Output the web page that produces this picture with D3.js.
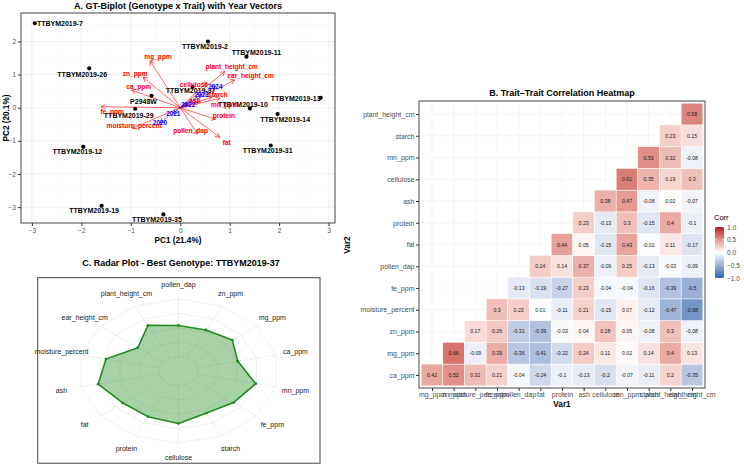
<!DOCTYPE html>
<html>
<head>
<meta charset="utf-8">
<script src="https://cdn.jsdelivr.net/npm/d3@7"></script>
<style>
  body { margin: 0; background: #fff; }
  svg { display: block; font-family: "Liberation Sans", Arial, sans-serif; }
</style>
</head>
<body>
<svg id="chart" width="744" height="465"></svg>
<script>
// ---------- data ----------
// A. biplot scores
var genotypes = ["TTBYM2019-7", "TTBYM2019-2", "TTBYM2019-11", "TTBYM2019-26", "TTBYM2019-13", "TTBYM2019-37", "P2948W",
                 "TTBYM2019-10", "TTBYM2019-29", "TTBYM2019-14", "TTBYM2019-12", "TTBYM2019-31", "TTBYM2019-19", "TTBYM2019-35"];
var genoPC1 = [-2.94, 0.56, 1.34, -1.84, 2.84, 0.25, -0.58, 1.41, -0.91, 1.97, -1.96, 1.83, -1.59, -0.34];
var genoPC2 = [2.55, 2.00, 1.54, 1.19, 0.30, 0.63, 0.36, -0.02, -0.03, -0.19, -1.18, -1.14, -2.96, -3.22];

var traits = ["mg_ppm", "zn_ppm", "ca_ppm", "fe_ppm", "moisture_percent", "pollen_dap", "fat", "protein",
              "mn_ppm", "starch", "ash", "cellulose", "plant_height_cm", "ear_height_cm"];
var traitPC1 = [-0.61, -0.75, -0.98, -1.60, -0.97, 0.35, 0.80, 0.72, 0.80, 0.64, 0.38, 0.54, 0.90, 1.10];
var traitPC2 = [1.41, 0.92, 0.53, 0.03, -0.62, -0.79, -0.89, -0.35, 0.28, 0.32, 0.17, 0.77, 1.09, 0.84];

var years = ["2020", "2021", "2022", "2023", "2024"];
var yearPC1 = [-0.41, -0.14, 0.16, 0.43, 0.71];
var yearPC2 = [-0.45, -0.17, 0.11, 0.41, 0.65];

var pcTicksX = [-3, -2, -1, 0, 1, 2, 3];
var pcTicksY = [-3, -2, -1, 0, 1, 2];

// B. correlation heatmap (rows bottom -> top, row i starts at column i)
var heatRows = ["ca_ppm", "mg_ppm", "zn_ppm", "moisture_percent", "fe_ppm", "pollen_dap", "fat", "protein",
                "ash", "cellulose", "mn_ppm", "starch", "plant_height_cm"];
var heatCols = ["mg_ppm", "zn_ppm", "moisture_percent", "fe_ppm", "pollen_dap", "fat", "protein", "ash",
                "cellulose", "mn_ppm", "starch", "plant_height_cm", "ear_height_cm"];
var corrValues = [
  [0.42, 0.52, 0.32, 0.21, -0.04, -0.24, -0.1, -0.13, -0.2, -0.07, -0.11, 0.2, -0.35],
  [0.66, -0.09, 0.39, -0.36, -0.41, -0.22, 0.24, 0.11, 0.02, 0.14, 0.4, 0.13],
  [0.17, 0.26, -0.31, -0.39, -0.03, 0.04, 0.28, 0.05, -0.08, 0.3, -0.08],
  [0.3, 0.23, 0.01, -0.11, 0.21, -0.15, 0.07, -0.12, -0.47, -0.68],
  [-0.13, -0.19, -0.27, 0.23, -0.04, -0.04, -0.16, -0.39, -0.5],
  [0.24, 0.14, 0.37, -0.09, 0.25, -0.13, -0.03, -0.09],
  [0.44, 0.05, -0.15, 0.43, -0.02, 0.11, -0.17],
  [0.23, -0.13, 0.3, -0.15, 0.4, -0.1],
  [0.38, 0.47, -0.08, 0.02, -0.07],
  [0.61, 0.35, 0.19, 0.3],
  [0.53, 0.32, -0.08],
  [0.23, 0.15],
  [0.58]
];
var legendTicks = [1.0, 0.5, 0.0, -0.5, -1.0];

// C. radar (counter-clockwise from top), scaled scores 0..1
var radarTraits = ["pollen_dap", "plant_height_cm", "ear_height_cm", "moisture_percent", "ash", "fat", "protein",
                   "cellulose", "starch", "fe_ppm", "mn_ppm", "ca_ppm", "mg_ppm", "zn_ppm"];
var radarScores = [0.54, 0.63, 0.40, 0.68, 0.78, 0.64, 0.63, 0.66, 0.56, 0.63, 0.74, 0.51, 0.61, 0.54];
var radarLevels = [0, 0.25, 0.5, 0.75, 1];

// ---------- setup ----------
var svg = d3.select("#chart");
var axisGrey = "#4d4d4d";

function title(x, y, txt) {
  svg.append("text").attr("x", x).attr("y", y).attr("text-anchor", "middle")
    .attr("font-size", 9).attr("font-weight", "bold").attr("fill", "#000").text(txt);
}

// arrow markers
var defs = svg.append("defs");
[["arrRed", "#ff0000"], ["arrBlue", "#0000ff"]].forEach(function (m) {
  defs.append("marker").attr("id", m[0]).attr("viewBox", "-5 -3 6 6")
    .attr("refX", 0).attr("refY", 0).attr("markerWidth", 6).attr("markerHeight", 6)
    .attr("markerUnits", "userSpaceOnUse").attr("orient", "auto")
    .append("path").attr("d", "M-4.2,-2.4L0,0L-4.2,2.4").attr("fill", "none")
    .attr("stroke", m[1]).attr("stroke-width", 0.6);
});

// ================= A. biplot =================
var bx = d3.scaleLinear().domain([-3.22, 3.13]).range([21, 335]);
var by = d3.scaleLinear().domain([-3.48, 2.86]).range([223, 13]);
var gA = svg.append("g");

gA.append("rect").attr("x", 21).attr("y", 13).attr("width", 314).attr("height", 210).attr("fill", "#fff");
// minor grid
var minorX = pcTicksX.slice(0, -1).map(function (d) { return d + 0.5; });
var minorY = [-2.5, -1.5, -0.5, 0.5, 1.5, 2.5];
gA.selectAll(".mx").data(minorX).enter().append("line")
  .attr("x1", bx).attr("x2", bx).attr("y1", 13).attr("y2", 223).attr("stroke", "#f2f2f2").attr("stroke-width", 0.4);
gA.selectAll(".my").data(minorY).enter().append("line")
  .attr("y1", by).attr("y2", by).attr("x1", 21).attr("x2", 335).attr("stroke", "#f2f2f2").attr("stroke-width", 0.4);
gA.selectAll(".gx").data(pcTicksX).enter().append("line")
  .attr("x1", bx).attr("x2", bx).attr("y1", 13).attr("y2", 223).attr("stroke", "#e6e6e6").attr("stroke-width", 0.6);
gA.selectAll(".gy").data(pcTicksY).enter().append("line")
  .attr("y1", by).attr("y2", by).attr("x1", 21).attr("x2", 335).attr("stroke", "#e6e6e6").attr("stroke-width", 0.6);

// axes
var axA1 = gA.append("g").attr("transform", "translate(0,223)")
  .call(d3.axisBottom(bx).tickValues(pcTicksX).tickSize(3).tickPadding(2).tickFormat(d3.format("d")));
var axA2 = gA.append("g").attr("transform", "translate(21,0)")
  .call(d3.axisLeft(by).tickValues(pcTicksY).tickSize(3).tickPadding(2).tickFormat(d3.format("d")));
[axA1, axA2].forEach(function (a) {
  a.select(".domain").remove();
  a.selectAll("line").attr("stroke", "#333");
  a.selectAll("text").attr("font-size", 6.5).attr("fill", axisGrey).attr("font-family", null);
});
gA.append("rect").attr("x", 21).attr("y", 13).attr("width", 314).attr("height", 210)
  .attr("fill", "none").attr("stroke", "#333").attr("stroke-width", 0.9);

// genotype points + labels (label offsets in px mimic the repelled labels)
var genoNudge = [[25, 0], [-3, 5], [10, -4.5], [-7, 6], [-25, 1], [-2, 4], [-8, 5.5],
                 [-7, -4], [-6.5, 6.5], [7.5, 5], [-6, 5], [-3, 5.5], [-7.5, 5], [-6.5, 5]];
genotypes.forEach(function (g, i) {
  gA.append("circle").attr("cx", bx(genoPC1[i])).attr("cy", by(genoPC2[i])).attr("r", 2.1).attr("fill", "#000");
});
genotypes.forEach(function (g, i) {
  gA.append("text").attr("x", bx(genoPC1[i]) + genoNudge[i][0]).attr("y", by(genoPC2[i]) + genoNudge[i][1])
    .attr("text-anchor", "middle").attr("dominant-baseline", "central")
    .attr("font-size", 7).attr("font-weight", "bold").attr("fill", "#000").text(g);
});

// trait vectors
var traitNudge = [[8, -5], [-8, -4], [7, -4], [11, 5], [2, -3], [-7, -3], [7, 5], [8, -4],
                  [5, 6], [6, -3], [-4, -2], [-13, 2], [7, -5], [16, -4]];
traits.forEach(function (t, i) {
  gA.append("line").attr("x1", bx(0)).attr("y1", by(0)).attr("x2", bx(traitPC1[i])).attr("y2", by(traitPC2[i]))
    .attr("stroke", "#ff0000").attr("stroke-width", 0.6).attr("marker-end", "url(#arrRed)");
});
traits.forEach(function (t, i) {
  gA.append("text").attr("x", bx(traitPC1[i]) + traitNudge[i][0]).attr("y", by(traitPC2[i]) + traitNudge[i][1])
    .attr("text-anchor", "middle").attr("dominant-baseline", "central")
    .attr("font-size", 6.6).attr("font-weight", "bold").attr("fill", "#ff0000").text(t);
});

// year vectors
years.forEach(function (yv, i) {
  gA.append("line").attr("x1", bx(0)).attr("y1", by(0)).attr("x2", bx(yearPC1[i])).attr("y2", by(yearPC2[i]))
    .attr("stroke", "#0000ff").attr("stroke-width", 0.6).attr("stroke-dasharray", "2,1")
    .attr("marker-end", "url(#arrBlue)");
  gA.append("text").attr("x", bx(yearPC1[i])).attr("y", by(yearPC2[i]))
    .attr("text-anchor", "middle").attr("dominant-baseline", "central")
    .attr("font-size", 6.4).attr("font-weight", "bold").attr("fill", "#0000ff").text(yv);
});

title(178, 9, "A. GT-Biplot (Genotype x Trait) with Year Vectors");
svg.append("text").attr("x", 178).attr("y", 243).attr("text-anchor", "middle")
  .attr("font-size", 8.2).attr("font-weight", "bold").text("PC1 (21.4%)");
svg.append("text").attr("transform", "translate(9,118) rotate(-90)").attr("text-anchor", "middle")
  .attr("font-size", 8.2).attr("font-weight", "bold").text("PC2 (20.1%)");

// ================= B. heatmap =================
var hx = d3.scalePoint().domain(heatCols).range([419, 705]).padding(0.6);
var hy = d3.scalePoint().domain(heatRows.slice().reverse()).range([101, 388]).padding(0.6);
var step = hx.step();
var color = d3.scaleLinear().domain([-1, 0, 1]).range(["#2166ac", "#ffffff", "#b2182b"]).interpolate(d3.interpolateLab);
var gB = svg.append("g");

gB.selectAll(".hgx").data(heatCols).enter().append("line")
  .attr("x1", hx).attr("x2", hx).attr("y1", 101).attr("y2", 388).attr("stroke", "#ebebeb").attr("stroke-width", 0.5);
gB.selectAll(".hgy").data(heatRows).enter().append("line")
  .attr("y1", hy).attr("y2", hy).attr("x1", 419).attr("x2", 705).attr("stroke", "#ebebeb").attr("stroke-width", 0.5);

var cells = [];
corrValues.forEach(function (row, r) {
  row.forEach(function (v, k) { cells.push({ row: heatRows[r], col: heatCols[r + k], v: v }); });
});
gB.selectAll(".cell").data(cells).enter().append("rect")
  .attr("x", function (d) { return hx(d.col) - step / 2; })
  .attr("y", function (d) { return hy(d.row) - hy.step() / 2; })
  .attr("width", step).attr("height", hy.step())
  .attr("fill", function (d) { return color(d.v); }).attr("stroke", "#fff").attr("stroke-width", 0.5);
gB.selectAll(".lab").data(cells).enter().append("text")
  .attr("x", function (d) { return hx(d.col); }).attr("y", function (d) { return hy(d.row); })
  .attr("text-anchor", "middle").attr("dominant-baseline", "central")
  .attr("font-size", 5.2).attr("fill", "#1a1a1a").text(function (d) { return String(d.v); });

var axB1 = gB.append("g").attr("transform", "translate(0,388)")
  .call(d3.axisBottom(hx).tickSize(3).tickPadding(1.5));
var axB2 = gB.append("g").attr("transform", "translate(419,0)")
  .call(d3.axisLeft(hy).tickSize(3).tickPadding(1.5));
[axB1, axB2].forEach(function (a) {
  a.select(".domain").remove();
  a.selectAll("line").attr("stroke", "#333");
  a.selectAll("text").attr("font-size", 7).attr("fill", axisGrey).attr("font-family", null);
});
gB.append("rect").attr("x", 419).attr("y", 101).attr("width", 286).attr("height", 287)
  .attr("fill", "none").attr("stroke", "#333").attr("stroke-width", 0.9);

title(562, 96, "B. Trait\u2013Trait Correlation Heatmap");
svg.append("text").attr("x", 562).attr("y", 407).attr("text-anchor", "middle")
  .attr("font-size", 8.2).attr("font-weight", "bold").text("Var1");
svg.append("text").attr("transform", "translate(350,245) rotate(-90)").attr("text-anchor", "middle")
  .attr("font-size", 8.2).attr("font-weight", "bold").text("Var2");

// legend
var ly = d3.scaleLinear().domain([-1, 1]).range([278, 227]);
var grad = defs.append("linearGradient").attr("id", "corrGrad").attr("x1", 0).attr("y1", 1).attr("x2", 0).attr("y2", 0);
d3.range(0, 1.0001, 0.1).forEach(function (t) {
  grad.append("stop").attr("offset", t).attr("stop-color", color(-1 + 2 * t));
});
svg.append("text").attr("x", 714).attr("y", 220).attr("font-size", 7.5).attr("fill", "#000").text("Corr");
svg.append("rect").attr("x", 715).attr("y", ly(1)).attr("width", 9).attr("height", ly(-1) - ly(1))
  .attr("fill", "url(#corrGrad)");
legendTicks.forEach(function (t) {
  svg.append("line").attr("x1", 715).attr("x2", 717).attr("y1", ly(t)).attr("y2", ly(t)).attr("stroke", "#fff").attr("stroke-width", 0.5);
  svg.append("line").attr("x1", 722).attr("x2", 724).attr("y1", ly(t)).attr("y2", ly(t)).attr("stroke", "#fff").attr("stroke-width", 0.5);
  svg.append("text").attr("x", 727).attr("y", ly(t)).attr("dominant-baseline", "central")
    .attr("font-size", 6.5).attr("fill", axisGrey).text(d3.format(".1f")(t).replace("-", "-"));
});

// ================= C. radar =================
var rcx = 178.5, rcy = 371, rRx = 100, rRy = 72;
var rScale = d3.scaleLinear().domain([0, 1]).range([0.2, 1]);
var nAx = radarTraits.length;
function radarPt(i, frac) {
  var a = i * 2 * Math.PI / nAx;
  return [rcx - rRx * frac * Math.sin(a), rcy - rRy * frac * Math.cos(a)];
}
var gC = svg.append("g");
gC.append("rect").attr("x", 37.7).attr("y", 277.7).attr("width", 282.3).attr("height", 185.5)
  .attr("fill", "#fff").attr("stroke", "#444").attr("stroke-width", 1);

var ringLine = d3.line().curve(d3.curveLinearClosed);
radarLevels.forEach(function (lv) {
  gC.append("path").attr("d", ringLine(d3.range(nAx).map(function (i) { return radarPt(i, rScale(lv)); })))
    .attr("fill", "none").attr("stroke", "#bdbdbd").attr("stroke-width", 0.6).attr("stroke-dasharray", "1,1.5");
});
d3.range(nAx).forEach(function (i) {
  var p0 = radarPt(i, rScale(0)), p1 = radarPt(i, 1);
  gC.append("line").attr("x1", p0[0]).attr("y1", p0[1]).attr("x2", p1[0]).attr("y2", p1[1])
    .attr("stroke", "#bdbdbd").attr("stroke-width", 0.6).attr("stroke-dasharray", "1,1.5");
});

var poly = radarScores.map(function (v, i) { return radarPt(i, rScale(v)); });
gC.append("path").attr("d", ringLine(poly)).attr("fill", "rgba(34,139,34,0.4)")
  .attr("stroke", "#228b22").attr("stroke-width", 1.6).attr("stroke-linejoin", "round");
poly.forEach(function (p) {
  gC.append("circle").attr("cx", p[0]).attr("cy", p[1]).attr("r", 1.4).attr("fill", "#228b22");
});
radarTraits.forEach(function (t, i) {
  var p = radarPt(i, 1.2);
  gC.append("text").attr("x", p[0]).attr("y", p[1]).attr("text-anchor", "middle").attr("dominant-baseline", "central")
    .attr("font-size", 7).attr("fill", "#222").text(t);
});
title(181, 266, "C. Radar Plot - Best Genotype: TTBYM2019-37");
</script>
</body>
</html>
